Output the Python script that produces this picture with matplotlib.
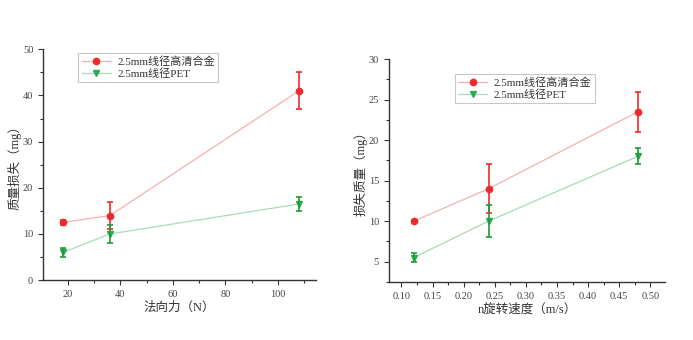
import matplotlib
matplotlib.use("Agg")
import matplotlib.pyplot as plt
from matplotlib.ticker import MultipleLocator, FormatStrFormatter

plt.rcParams['font.family'] = ['Liberation Serif', 'Noto Sans CJK SC', 'DejaVu Sans']

# Left chart: normal force
force = [18, 36, 108]
alloy_force = [12.5, 14, 41]
alloy_force_err = [0.5, 3, 4]
pet_force = [6, 10, 16.5]
pet_force_err = [1, 2, 1.5]

# Right chart: rotation speed
speed = [0.12, 0.24, 0.48]
alloy_speed = [10, 14, 23.5]
alloy_speed_err = [0, 3, 2.5]
pet_speed = [5.5, 10, 18]
pet_speed_err = [0.5, 2, 1]

label_alloy = '2.5mm线径高清合金'
label_pet = '2.5mm线径PET'

RED = '#ee2a2f'
RED_LINE = '#f7b0b0'
GREEN = '#1f9a3a'
GREEN_MK = '#2eaa50'
GREEN_LINE = '#a6dcb6'
TXT = '#333333'

fig = plt.figure(figsize=(6.93, 3.40), dpi=100)
ax1 = fig.add_axes([0.062, 0.176, 0.394, 0.679])
ax2 = fig.add_axes([0.561, 0.170, 0.399, 0.656])


def draw(ax, x, ya, ea, yp, ep):
    ax.plot(x, ya, color=RED_LINE, lw=0.9, marker='o', ms=4.5, mfc=RED, mec=RED, label=label_alloy, zorder=3)
    ax.errorbar(x, ya, yerr=ea, fmt='none', ecolor=RED, elinewidth=1.2, capsize=2.5, capthick=1.2, zorder=4)
    ax.plot(x, yp, color=GREEN_LINE, lw=0.9, marker='v', ms=4.5, mfc=GREEN_MK, mec=GREEN_MK, label=label_pet, zorder=3)
    ax.errorbar(x, yp, yerr=ep, fmt='none', ecolor=GREEN, elinewidth=1.2, capsize=2.5, capthick=1.2, zorder=4)
    for s in ['top', 'right']:
        ax.spines[s].set_visible(False)
    for s in ['left', 'bottom']:
        ax.spines[s].set_color(TXT)
        ax.spines[s].set_linewidth(1.0)
    ax.tick_params(which='major', direction='out', length=3.5, width=0.8, colors=TXT, labelsize=7.5, labelcolor='#444444')
    ax.tick_params(which='minor', direction='out', length=2, width=0.8, colors=TXT)


draw(ax1, force, alloy_force, alloy_force_err, pet_force, pet_force_err)
ax1.set_xlim(10.5, 114.5)
ax1.set_ylim(0, 50)
ax1.xaxis.set_major_locator(MultipleLocator(20))
ax1.xaxis.set_minor_locator(MultipleLocator(10))
ax1.yaxis.set_major_locator(MultipleLocator(10))
ax1.yaxis.set_minor_locator(MultipleLocator(5))
ax1.set_xlabel('法向力（N）', fontsize=9, color=TXT, labelpad=2)
ax1.set_ylabel('质量损失（mg）', fontsize=9, color=TXT, labelpad=1)
leg1 = ax1.legend(loc='upper left', bbox_to_anchor=(0.13, 0.985), fontsize=8, frameon=True,
                  fancybox=False, edgecolor='#bbbbbb', borderpad=0.3, labelspacing=0.15,
                  handlelength=2.6, handletextpad=0.6, borderaxespad=0)
leg1.get_frame().set_linewidth(0.8)
for t in leg1.get_texts():
    t.set_color(TXT)

draw(ax2, speed, alloy_speed, alloy_speed_err, pet_speed, pet_speed_err)
ax2.set_xlim(0.0796, 0.524)
ax2.set_ylim(2.45, 30)
ax2.xaxis.set_major_locator(MultipleLocator(0.05))
ax2.xaxis.set_minor_locator(MultipleLocator(0.025))
ax2.xaxis.set_major_formatter(FormatStrFormatter('%.2f'))
ax2.yaxis.set_major_locator(MultipleLocator(5))
ax2.yaxis.set_minor_locator(MultipleLocator(2.5))
ax2.set_xlabel('n旋转速度（m/s）', fontsize=9, color=TXT, labelpad=2)
ax2.set_ylabel('损失质量（mg）', fontsize=9, color=TXT, labelpad=1)
leg2 = ax2.legend(loc='upper left', bbox_to_anchor=(0.24, 0.935), fontsize=8, frameon=True,
                  fancybox=False, edgecolor='#bbbbbb', borderpad=0.3, labelspacing=0.15,
                  handlelength=2.6, handletextpad=0.6, borderaxespad=0)
leg2.get_frame().set_linewidth(0.8)
for t in leg2.get_texts():
    t.set_color(TXT)

fig.savefig('out.png', dpi=100, facecolor='white')
